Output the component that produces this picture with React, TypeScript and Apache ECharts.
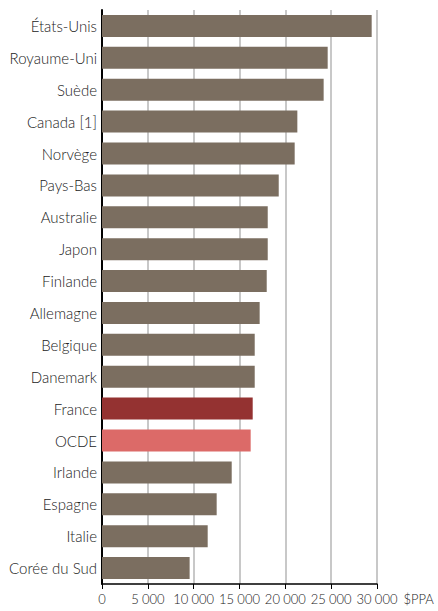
import React, { useEffect, useRef } from "react";
import * as echarts from "echarts";

const categories = [
  "États-Unis", "Royaume-Uni", "Suède", "Canada [1]", "Norvège", "Pays-Bas",
  "Australie", "Japon", "Finlande", "Allemagne", "Belgique", "Danemark",
  "France", "OCDE", "Irlande", "Espagne", "Italie", "Corée du Sud",
];
const values = [
  29420, 24620, 24180, 21310, 21020, 19280,
  18080, 18080, 17970, 17200, 16660, 16660,
  16440, 16220, 14150, 12510, 11530, 9560,
];
const xTicks = [0, 5000, 10000, 15000, 20000, 25000, 30000];
const unitLabel = "$PPA";

const BASE = "#7b6e60";
const FRANCE = "#943231";
const OCDE = "#dc6a68";
const FONT = "Lato";

export default function App() {
  const ref = useRef<HTMLDivElement>(null);
  useEffect(() => {
    if (!ref.current) return;
    const chart = echarts.init(ref.current, null, { renderer: "svg" });
    const cats = [...categories].reverse();
    const vals = [...values].reverse();
    chart.setOption({
      animation: false,
      grid: {
        left: 102, right: 61, top: 10, bottom: 27,
        containLabel: false,
        outerBoundsMode: "none",
      },
      xAxis: {
        type: "value",
        min: 0,
        max: 30000,
        interval: 5000,
        name: unitLabel,
        nameLocation: "end",
        nameGap: 26,
        nameTextStyle: {
          fontFamily: FONT,
          fontWeight: 300,
          fontSize: 13,
          color: "#222",
          verticalAlign: "top",
          padding: [8, 0, 0, 0],
        },
        axisLine: { show: true, lineStyle: { color: "#000", width: 1.5 } },
        axisTick: { show: true, length: 5, lineStyle: { color: "#000" } },
        axisLabel: {
          fontFamily: FONT,
          fontWeight: 300,
          fontSize: 13,
          color: "#222",
          margin: 8,
          formatter: (v: number) =>
            xTicks.includes(v) ? String(v).replace(/\B(?=(\d{3})+(?!\d))/g, "\u202f") : "",
        },
        splitLine: { show: true, lineStyle: { color: "#c8c8c8", width: 2 } },
      },
      yAxis: {
        type: "category",
        data: cats,
        axisLine: { show: true, lineStyle: { color: "#000", width: 2 } },
        axisTick: { show: false },
        axisLabel: { fontFamily: FONT, fontWeight: 300, fontSize: 15, color: "#222", margin: 5 },
      },
      series: [
        {
          type: "bar",
          data: vals.map((v, i) => ({
            value: v,
            itemStyle: {
              color: cats[i] === "France" ? FRANCE : cats[i] === "OCDE" ? OCDE : BASE,
            },
          })),
          barCategoryGap: "31%",
        },
      ],
    });
    return () => chart.dispose();
  }, []);
  return <div ref={ref} style={{ width: 438, height: 611, position: "absolute", left: 0, top: 0 }} />;
}
